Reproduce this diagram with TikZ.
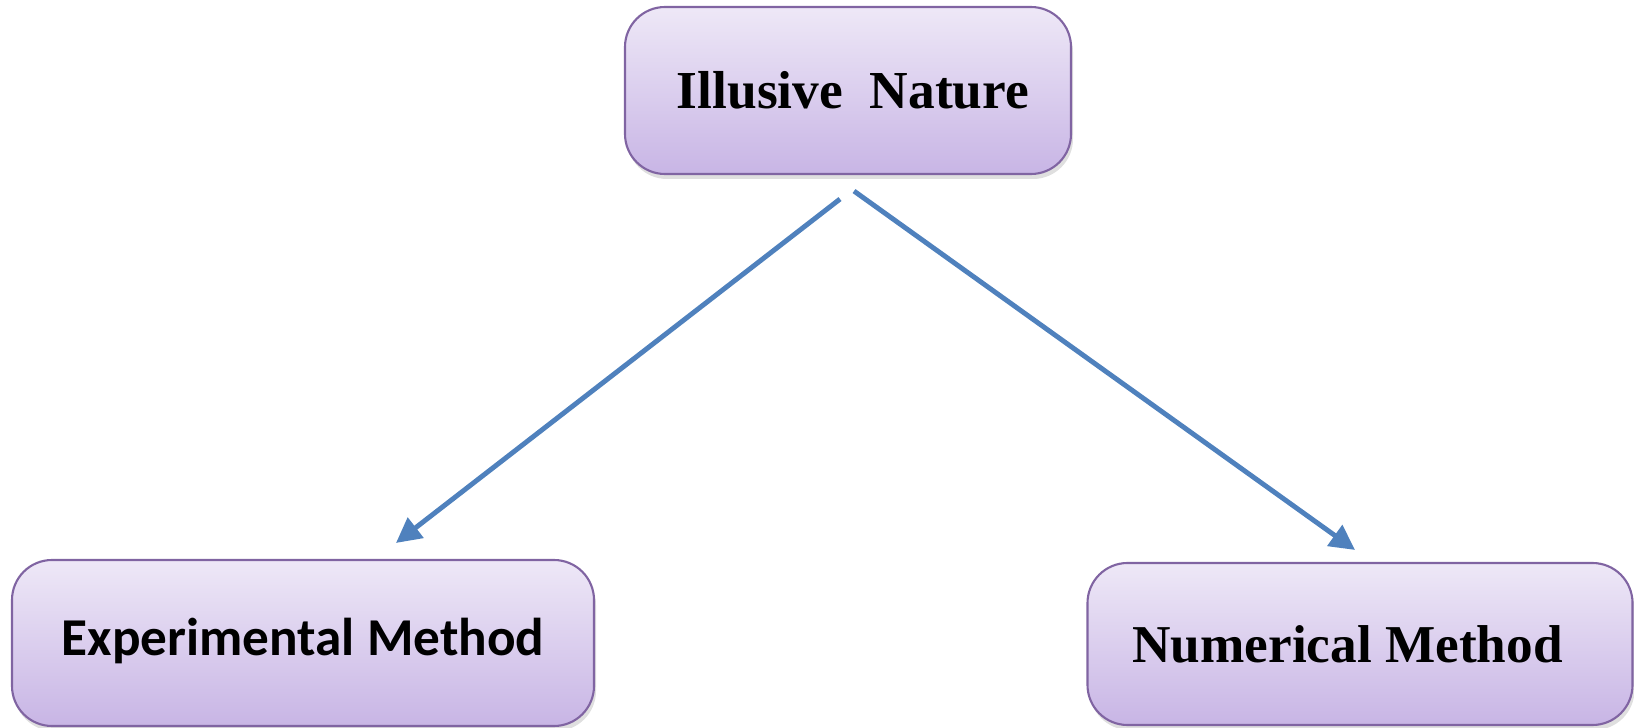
\documentclass[tikz,border=0pt]{standalone}
\usepackage{fontspec}
\setmainfont{Liberation Serif}
\newfontfamily\calfont{Carlito}
\usetikzlibrary{arrows.meta,shadows}
\definecolor{boxline}{HTML}{8064A2}
\definecolor{boxtop}{HTML}{EEE8F7}
\definecolor{boxbot}{HTML}{C8B5E5}
\definecolor{linkblue}{HTML}{4F81BD}
\tikzset{
  box/.style={draw=boxline, line width=1.2pt, rounded corners=0.8cm,
    top color=boxtop, bottom color=boxbot,
    drop shadow={opacity=0.25, shadow xshift=0.04cm, shadow yshift=-0.1cm},
    inner sep=0pt},
  link/.style={draw=linkblue, line width=2.8pt,
    -{Triangle[length=0.5cm, width=0.5cm]}}
}

\begin{document}
\begin{tikzpicture}
        \useasboundingbox (0,0) rectangle (32.68,14.54);
        % Boxes
        \node[box, minimum width=8.92cm, minimum height=3.34cm] (illusive) at (16.96,12.73)
            {\hspace*{0.2cm}\fontsize{30.4}{36}\selectfont\bfseries Illusive\ \ Nature};
        \node[box, minimum width=11.64cm, minimum height=3.32cm] (experimental) at (6.06,1.68)
            {\raisebox{0.25cm}{\calfont\fontsize{30.3}{36}\selectfont\bfseries Experimental Method}};
        \node[box, minimum width=10.9cm, minimum height=3.24cm] (numerical) at (27.2,1.66)
            {\hspace*{-0.5cm}\fontsize{30.3}{36}\selectfont\bfseries Numerical Method};
        % Arrow ends
        \coordinate (il-left) at ([xshift=-0.16cm,yshift=-0.48cm]illusive.south);
        \coordinate (il-right) at ([xshift=0.12cm,yshift=-0.32cm]illusive.south);
        \coordinate (ex-top) at ([xshift=1.86cm,yshift=0.32cm]experimental.north);
        \coordinate (nu-top) at ([xshift=-0.1cm,yshift=0.24cm]numerical.north);
        % Arrows
        \draw[link] (il-left) -- (ex-top);
        \draw[link] (il-right) -- (nu-top);
\end{tikzpicture}
\end{document}
